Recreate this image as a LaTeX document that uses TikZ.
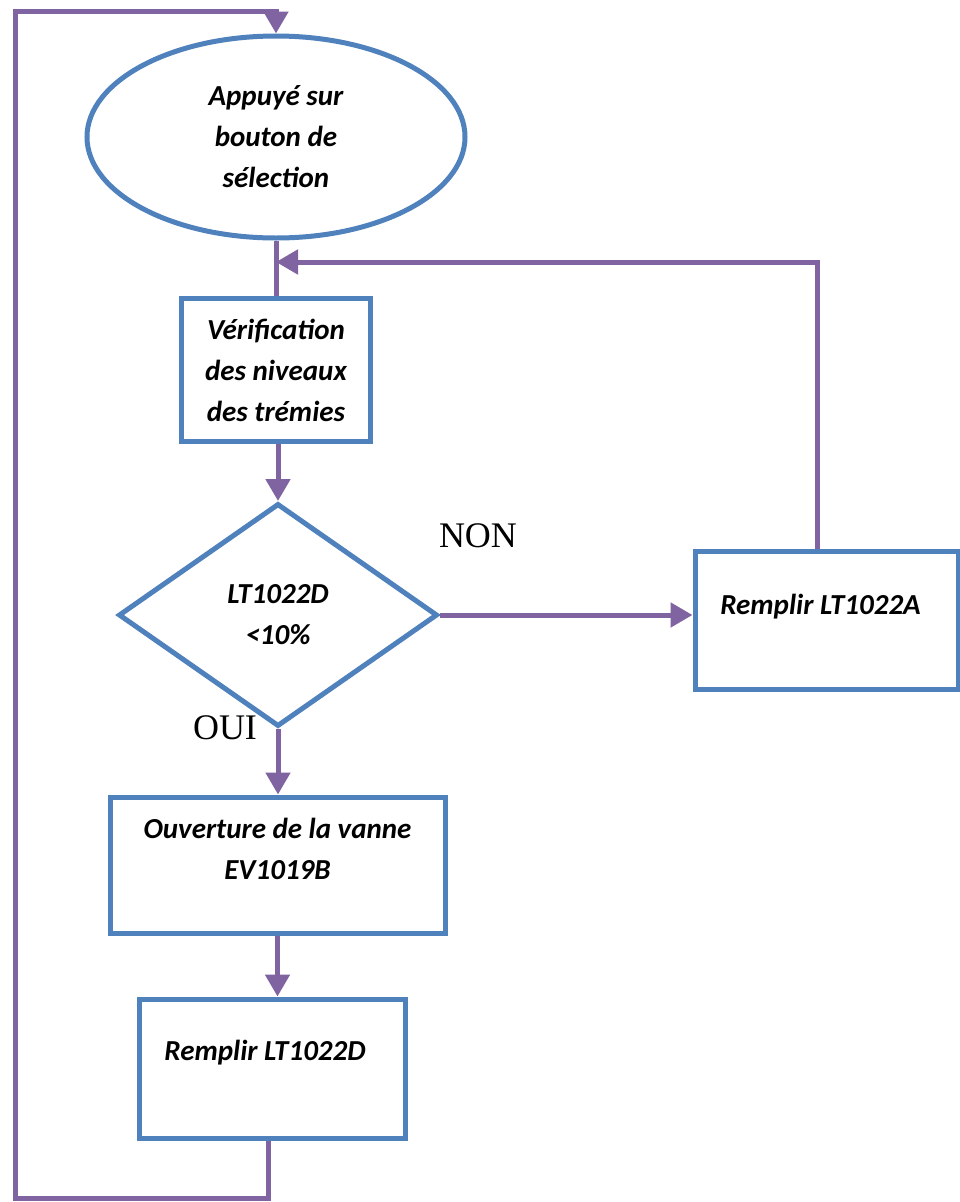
\documentclass[tikz,border=0pt]{standalone}
\usepackage{fontspec}
\setmainfont{Carlito}
\newfontfamily\tnr{Liberation Serif}
\usetikzlibrary{shapes.geometric,arrows.meta}
\definecolor{bbox}{RGB}{79,129,189}
\definecolor{pline}{RGB}{128,100,162}
\begin{document}
\begin{tikzpicture}[x=1pt,y=-1pt,
  txt/.style={font=\fontsize{29}{41}\selectfont\bfseries\itshape,align=center,inner sep=0pt},
  stepbox/.style={draw=bbox,line width=5pt,rectangle,inner sep=0pt,txt},
  arr/.style={draw=pline,line width=5pt,-{Triangle[length=22pt,width=24pt]}},
  ln/.style={draw=pline,line width=5pt},
  lbl/.style={font=\tnr\fontsize{36}{40}\selectfont,inner sep=0pt}]
\useasboundingbox (0,0) rectangle (960,1202);
\fill[white] (0,0) rectangle (960,1202);

\node[ellipse,draw=bbox,line width=5pt,minimum width=378pt,minimum height=202pt,txt] (e) at (276,137) {Appuyé sur\\bouton de\\sélection};
\node[stepbox,minimum width=189pt,minimum height=143pt] (v) at (276,370) {Vérification\\des niveaux\\des trémies};
\node[diamond,draw=bbox,line width=5pt,minimum width=319pt,minimum height=223pt,aspect=1.43,txt] (d) at (278,615) {LT1022D\\<10\%};
\node[stepbox,minimum width=263pt,minimum height=138pt,
  label={[txt,xshift=-6pt,yshift=13pt]center:Remplir LT1022A}] (a) at (826.5,620) {};
\node[stepbox,minimum width=335pt,minimum height=136pt,
  label={[txt,yshift=16pt]center:Ouverture de la vanne\\EV1019B}] (b) at (277.5,865) {};
\node[stepbox,minimum width=266pt,minimum height=139pt,
  label={[txt,xshift=-7pt,yshift=15.5pt]center:Remplir LT1022D}] (c) at (272,1068.5) {};

\node[lbl] (non) at (478,536) {NON};
\node[lbl] (oui) at (225,728) {OUI};

\coordinate (bl) at (15,1198);
\coordinate (tl) at (15,11);
\coordinate (k) at (817,262);

\draw[arr] ([xshift=-4pt]c.south) |- (bl) -- (tl) -| (e.north);
\draw[ln] (e.south) -- (e.south |- v.north);
\draw[arr] (a.north -| k) -- (k) -- (e.south |- k);
\draw[arr] (d.north |- v.south) -- (d.north);
\draw[arr] (d.east) -- (d.east -| a.west);
\draw[arr] (d.south) -- (d.south |- b.north);
\draw[arr] (b.south) -- (b.south |- c.north);
\end{tikzpicture}
\end{document}
